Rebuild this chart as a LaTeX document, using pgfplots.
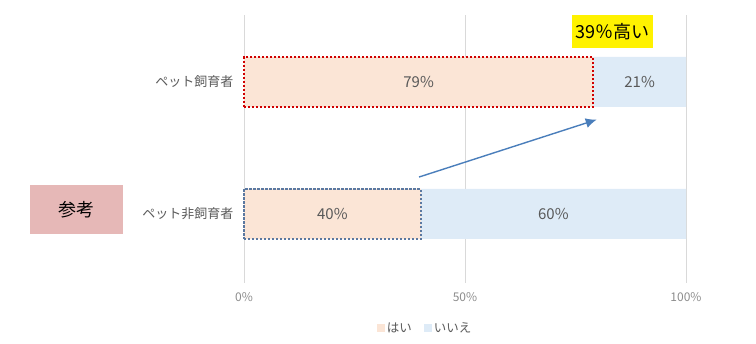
\documentclass[border=0pt]{standalone}
\usepackage{pgfplots}
\pgfplotsset{compat=1.18}
\usepackage{fontspec}
\setmainfont{Noto Sans CJK JP}
\usetikzlibrary{arrows.meta}

\definecolor{hai}{HTML}{FBE5D6}
\definecolor{iie}{HTML}{DEEBF7}
\definecolor{lbl}{HTML}{595959}
\definecolor{tck}{HTML}{8C8C8C}
\definecolor{gridc}{HTML}{D9D9D9}
\definecolor{redline}{HTML}{D00000}
\definecolor{slate}{HTML}{5B78A0}
\definecolor{arrowc}{HTML}{4A7EBB}
\definecolor{refbox}{HTML}{E6B8B7}

\pgfplotsset{
  frame/.style={
    scale only axis,
    width=442pt, height=268pt,
    at={(244pt,61pt)}, anchor=south west,
    xmin=0, xmax=100,
    ymin=-0.5227, ymax=1.5076,
  }
}

\begin{document}
\begin{tikzpicture}
\path[use as bounding box] (0,0) rectangle (756pt,344pt);

% stacked shares of yes / no
\begin{axis}[
  frame,
  xbar stacked,
  bar width=50pt,
  separate axis lines,
  axis line style={draw=none},
  every outer x axis line/.append style={draw=none},
  every outer y axis line/.append style={draw=none},
  xmajorgrids,
  grid style={color=gridc, line width=0.8pt},
  major tick length=0pt,
  xtick={0,50,100},
  xticklabel={\pgfmathprintnumber{\tick}\%},
  /pgf/number format/assume math mode=true,
  xticklabel style={font=\fontsize{12}{14}\selectfont, text=tck, yshift=-6pt},
  ytick={0,1},
  yticklabels={ペット非飼育者, ペット飼育者},
  yticklabel style={font=\fontsize{13}{15}\selectfont, text=lbl, xshift=-7pt},
  legend style={
    at={(0.41,-0.168)}, anchor=center, draw=none,
    legend columns=2, font=\fontsize{12.5}{15}\selectfont, text=lbl,
    /tikz/every even column/.append style={column sep=10pt},
  },
  legend image code/.code={\fill[#1] (0pt,-4pt) rectangle (8pt,4pt);},
]
\addplot[fill=hai, draw=none] coordinates {(40,0) (79,1)};
\addlegendentry{はい}
\addplot[fill=iie, draw=none] coordinates {(60,0) (21,1)};
\addlegendentry{いいえ}
\end{axis}

% dotted outlines, value labels and the arrow
\begin{axis}[
  frame,
  hide axis,
  clip=false,
]
\addplot[xbar, bar width=50pt, bar shift=0pt, fill=none, draw=redline,
  line width=2.2pt, dash pattern=on 2.2pt off 1.8pt] coordinates {(79,1)};
\addplot[xbar, bar width=50pt, bar shift=0pt, fill=none, draw=slate,
  line width=2.2pt, dash pattern=on 2.2pt off 1.8pt] coordinates {(40,0)};
\addplot[draw=none, mark=none, nodes near coords, point meta=explicit symbolic,
  every node near coord/.style={anchor=center, text=lbl,
    font=\fontsize{15}{17}\selectfont}]
  coordinates {(39.5,1) [79\%] (89.5,1) [21\%] (20,0) [40\%] (70,0) [60\%]};
\draw[arrowc, line width=1.4pt, -{Latex[length=11pt,width=10pt]}]
  (axis cs:39.6,0.28) -- (axis cs:79.8,0.715);
\end{axis}

% callouts
\node[fill=yellow, minimum width=81pt, minimum height=33pt, inner sep=0pt,
  font=\fontsize{18}{20}\selectfont] at (612.5pt,312.5pt) {39％高い};
\node[fill=refbox, minimum width=93pt, minimum height=49pt, inner sep=0pt,
  font=\fontsize{18}{20}\selectfont] at (76.5pt,134.5pt) {参考};
\end{tikzpicture}
\end{document}
